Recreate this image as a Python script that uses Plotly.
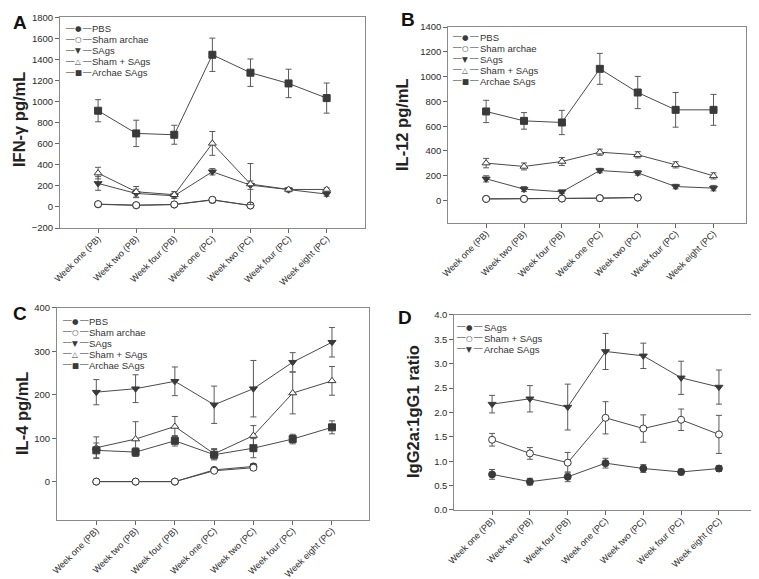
import plotly.graph_objects as go

# ---- categories ----
weeks = ['Week one (PB)', 'Week two (PB)', 'Week four (PB)', 'Week one (PC)',
         'Week two (PC)', 'Week four (PC)', 'Week eight (PC)']

# ---- Panel A: IFN-gamma (pg/mL) ----
ifn_pbs = [25, 15, 22, 66, 14, None, None]
ifn_pbs_err = [18, 18, 18, 20, 8, None, None]
ifn_sham = [27, 17, 24, 68, 14, None, None]
ifn_sham_err = [20, 20, 20, 22, 8, None, None]
ifn_sags = [223, 128, 106, 334, 207, 163, 122]
ifn_sags_err = [65, 40, 25, 30, 40, 20, 20]
ifn_shamsags = [321, 144, 116, 603, 217, 166, 166]
ifn_shamsags_err = [55, 50, 30, 113, 195, 15, 15]
ifn_archae = [913, 698, 685, 1444, 1274, 1172, 1033]
ifn_archae_err = [105, 125, 90, 158, 130, 135, 143]

# ---- Panel B: IL-12 (pg/mL) ----
il12_pbs = [13, 13, 16, 19, 24, None, None]
il12_pbs_err = [5, 5, 5, 5, 5, None, None]
il12_sham = [13, 13, 16, 19, 24, None, None]
il12_sham_err = [5, 5, 5, 5, 5, None, None]
il12_sags = [175, 92, 70, 242, 223, 113, 100]
il12_sags_err = [25, 20, 15, 18, 18, 18, 22]
il12_shamsags = [302, 275, 315, 390, 369, 288, 199]
il12_shamsags_err = [38, 28, 32, 25, 25, 25, 25]
il12_archae = [719, 643, 630, 1063, 872, 732, 732]
il12_archae_err = [90, 67, 98, 125, 130, 140, 125]

# ---- Panel C: IL-4 (pg/mL) ----
il4_pbs = [0, 0, 0, 27, 35, None, None]
il4_pbs_err = [1, 1, 1, 3, 6, None, None]
il4_sham = [0, 0, 0, 25, 32, None, None]
il4_sham_err = [1, 1, 1, 3, 5, None, None]
il4_sags = [206, 214, 231, 177, 214, 275, 321]
il4_sags_err = [29, 32, 33, 43, 65, 22, 34]
il4_shamsags = [78, 98, 127, 64, 106, 204, 232]
il4_shamsags_err = [25, 40, 23, 12, 23, 48, 33]
il4_archae = [72, 68, 94, 62, 77, 98, 125]
il4_archae_err = [17, 10, 12, 12, 22, 11, 15]

# ---- Panel D: IgG2a:IgG1 ratio ----
igg_sags = [0.73, 0.58, 0.68, 0.96, 0.85, 0.78, 0.85]
igg_sags_err = [0.10, 0.07, 0.10, 0.10, 0.08, 0.06, 0.06]
igg_shamsags = [1.44, 1.16, 0.97, 1.89, 1.67, 1.85, 1.55]
igg_shamsags_err = [0.13, 0.12, 0.21, 0.33, 0.28, 0.22, 0.39]
igg_archae = [2.17, 2.28, 2.11, 3.25, 3.16, 2.71, 2.52]
igg_archae_err = [0.18, 0.27, 0.47, 0.37, 0.26, 0.34, 0.35]

W, H = 759, 579
LINE = '#4a4a4a'
FILL = '#3a3a3a'
ERR = '#5a5a5a'
FONT = 'Liberation Sans, Arial, sans-serif'

GLYPH = {'circle': '●', 'circle-open': '○', 'triangle-down': '▼',
         'triangle-up-open': '△', 'square': '■'}


def series(name, y, err, symbol, filled, axis):
    return go.Scatter(
        x=weeks, y=y, name=name, mode='lines+markers',
        xaxis='x' + axis, yaxis='y' + axis, showlegend=False,
        line=dict(color=LINE, width=1),
        marker=dict(symbol=symbol, size=7,
                    color=FILL if filled else 'white',
                    line=dict(color=FILL, width=1)),
        error_y=dict(type='data', array=err, color=ERR, thickness=1, width=3),
        connectgaps=False,
    )


fig = go.Figure()

panel_a = [('PBS', ifn_pbs, ifn_pbs_err, 'circle', True),
           ('Sham archae', ifn_sham, ifn_sham_err, 'circle', False),
           ('SAgs', ifn_sags, ifn_sags_err, 'triangle-down', True),
           ('Sham + SAgs', ifn_shamsags, ifn_shamsags_err, 'triangle-up', False),
           ('Archae SAgs', ifn_archae, ifn_archae_err, 'square', True)]
panel_b = [('PBS', il12_pbs, il12_pbs_err, 'circle', True),
           ('Sham archae', il12_sham, il12_sham_err, 'circle', False),
           ('SAgs', il12_sags, il12_sags_err, 'triangle-down', True),
           ('Sham + SAgs', il12_shamsags, il12_shamsags_err, 'triangle-up', False),
           ('Archae SAgs', il12_archae, il12_archae_err, 'square', True)]
panel_c = [('PBS', il4_pbs, il4_pbs_err, 'circle', True),
           ('Sham archae', il4_sham, il4_sham_err, 'circle', False),
           ('SAgs', il4_sags, il4_sags_err, 'triangle-down', True),
           ('Sham + SAgs', il4_shamsags, il4_shamsags_err, 'triangle-up', False),
           ('Archae SAgs', il4_archae, il4_archae_err, 'square', True)]
panel_d = [('SAgs', igg_sags, igg_sags_err, 'circle', True),
           ('Sham + SAgs', igg_shamsags, igg_shamsags_err, 'circle', False),
           ('Archae SAgs', igg_archae, igg_archae_err, 'triangle-down', True)]

for axis, panel in [('', panel_a), ('2', panel_b), ('3', panel_c), ('4', panel_d)]:
    for nm, y, e, s, f in panel:
        fig.add_trace(series(nm, y, e, s, f, axis))

xcommon = dict(type='category', showline=True, mirror=True, automargin=False,
               linecolor='#8a8a8a', linewidth=1, ticks='outside', ticklen=4,
               tickcolor='#666666', tickangle=-45, showgrid=False, zeroline=False,
               ticklabelstandoff=-3,
               tickfont=dict(size=9, color='#2a2a2a', family=FONT))
ycommon = dict(showline=True, mirror=True, automargin=False, linecolor='#8a8a8a',
               linewidth=1, ticks='outside', ticklen=4, tickcolor='#666666',
               showgrid=False, zeroline=False,
               tickfont=dict(size=9.5, color='#2a2a2a', family=FONT))

fig.update_layout(
    width=W, height=H, margin=dict(l=0, r=0, t=0, b=0),
    paper_bgcolor='white', plot_bgcolor='white',
    font=dict(family=FONT, color='#333333'),
    xaxis=dict(xcommon, domain=[0.0685, 0.470], anchor='y', range=[-1, 7]),
    yaxis=dict(ycommon, domain=[0.620, 0.984], anchor='x', range=[-200, 1800], dtick=200),
    xaxis2=dict(xcommon, domain=[0.580, 0.972], anchor='y2', range=[-1, 6.85]),
    yaxis2=dict(ycommon, domain=[0.629, 0.967], anchor='x2', range=[-180, 1400],
                tickvals=[0, 200, 400, 600, 800, 1000, 1200, 1400]),
    xaxis3=dict(xcommon, domain=[0.0646, 0.476], anchor='y3', range=[-1, 6.95]),
    yaxis3=dict(ycommon, domain=[0.116, 0.482], anchor='x3', range=[-88, 400],
                tickvals=[0, 100, 200, 300, 400]),
    xaxis4=dict(xcommon, domain=[0.588, 0.984], anchor='y4', range=[-1, 6.95]),
    yaxis4=dict(ycommon, domain=[0.133, 0.470], anchor='x4', range=[0, 4], dtick=0.5,
                tickformat='.1f'),
)

# y-axis titles as rotated annotations (placed like the original figure)
for text, px, py in [('IFN-γ pg/mL', 11, 112), ('IL-12 pg/mL', 394, 117),
                     ('IL-4 pg/mL', 14, 406), ('IgG2a:1gG1 ratio', 405, 404)]:
    fig.add_annotation(text='<b>' + text + '</b>', x=px / W, y=1 - py / H,
                       xref='paper', yref='paper', textangle=-90, showarrow=False,
                       xanchor='center', yanchor='middle',
                       font=dict(size=16.5, color='#222222', family=FONT))


def add_key(panel, cx, tx, y0, step=11):
    # small in-panel key: two line stubs, a marker glyph and the label
    for i, (nm, _, _, s, f) in enumerate(panel):
        yy = 1 - (y0 + i * step) / H
        for side, anchor in [(-2.5, 'right'), (2.5, 'left')]:
            fig.add_annotation(text='──', x=(cx + side) / W, y=yy, xref='paper',
                               yref='paper', showarrow=False, xanchor=anchor,
                               yanchor='middle', borderpad=0,
                               font=dict(size=7, color=LINE, family='DejaVu Sans'))
        key = s if f or s not in ('circle', 'triangle-up') else s + '-open'
        fig.add_annotation(text=GLYPH[key], x=cx / W, y=yy, xref='paper', yref='paper',
                           showarrow=False, xanchor='center', yanchor='middle',
                           borderpad=0, font=dict(size=7.5, color=FILL, family='DejaVu Sans'))
        fig.add_annotation(text=nm, x=tx / W, y=yy, xref='paper', yref='paper',
                           showarrow=False, xanchor='left', yanchor='middle', borderpad=0,
                           font=dict(size=9.5, color='#333333', family=FONT))


add_key(panel_a, 70, 83, 20.7)
add_key(panel_b, 457, 471, 29.3)
add_key(panel_c, 67, 80, 313.3)
add_key(panel_d, 461, 475, 319.3)

for letter, px, py in [('A', 12, 14), ('B', 400, 12), ('C', 12, 305), ('D', 397, 309)]:
    fig.add_annotation(text='<b>' + letter + '</b>', x=px / W, y=1 - py / H,
                       xref='paper', yref='paper', xanchor='center', yanchor='middle',
                       showarrow=False, font=dict(size=19, color='#111111', family=FONT))

fig.write_html("out.html")
